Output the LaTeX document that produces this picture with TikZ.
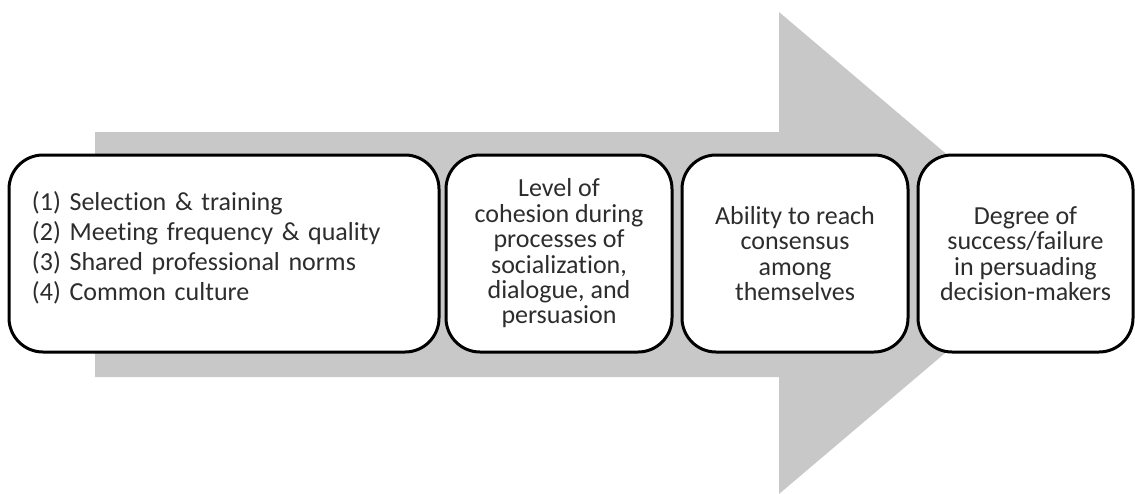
\documentclass[tikz,border=0pt]{standalone}
\usepackage{fontspec}
\setmainfont[Ligatures=NoCommon]{Carlito}
\usetikzlibrary{positioning}
\definecolor{arrowgray}{RGB}{200,200,200}
\definecolor{textgray}{RGB}{45,45,45}

\begin{document}
\begin{tikzpicture}[
    x=0.5pt, y=-0.5pt,
    node distance=3.5pt,
    every node/.style={font=\fontsize{13}{12.7}\selectfont, text=textgray, align=center},
    box/.style={rectangle, draw=black, line width=1.5pt, rounded corners=17pt, fill=white, minimum height=98.5pt, inner sep=4pt},
    band/.style={fill=arrowgray}
]
\useasboundingbox (0,0) rectangle (1135,493);
% big arrow behind the boxes
\fill[band] (95,132) -- (779,132) -- (779,12) -- (1063,253)
    -- (779,494) -- (779,377) -- (95,377) -- cycle;
\node[box, minimum width=215pt, text width=192pt, align=left, text depth=53pt,
    font=\fontsize{13}{15}\selectfont] (sel) at (224,253.5)
    {(1) Selection \& training\\(2) Meeting frequency \& quality\\(3) Shared professional norms\\(4) Common culture};
\node[box, minimum width=113pt, right=2pt of sel] (coh)
    {Level of\\cohesion during\\processes of\\socialization,\\dialogue, and\\persuasion};
\node[box, minimum width=113pt, right=of coh] (cons)
    {Ability to reach\\consensus\\among\\themselves};
\node[box, minimum width=107.5pt, right=of cons] (succ)
    {Degree of\\success/failure\\in persuading\\decision-makers};
\end{tikzpicture}
\end{document}
